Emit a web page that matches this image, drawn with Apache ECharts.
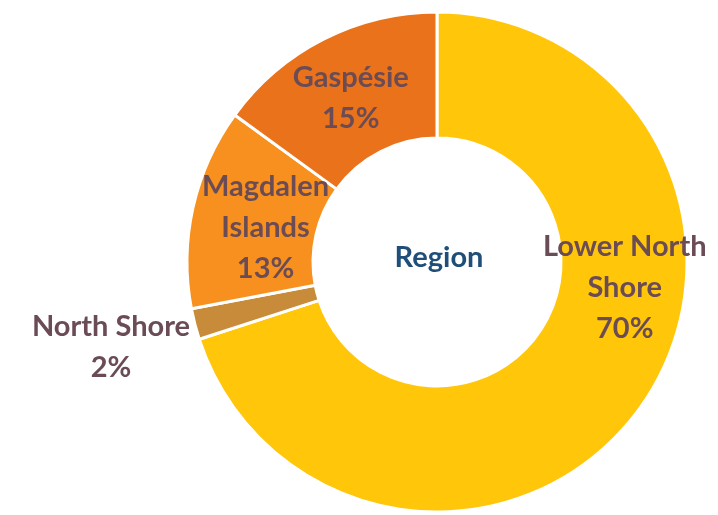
<!DOCTYPE html>
<html>
<head>
<meta charset="utf-8">
<script src="https://cdn.jsdelivr.net/npm/echarts@6/dist/echarts.min.js"></script>
<style>
  html, body { margin: 0; padding: 0; background: #fff; }
  #chart { width: 718px; height: 515px; }
</style>
</head>
<body>
<div id="chart"></div>
<script>
// region shares, clockwise from 12 o'clock
const regions = ['Lower North Shore', 'North Shore', 'Magdalen Islands', 'Gaspésie']
const labelText = ['Lower North\nShore', 'North Shore', 'Magdalen\nIslands', 'Gaspésie']
const shares = [70, 2, 13, 15]
const colors = ['#FFC60A', '#C88B3A', '#F7901E', '#E9721A']

// label nudges away from the default inside position
const labelOffsets = [[34, -86], [-142, 38], [14, 7], [0, 5]]

const chart = echarts.init(document.getElementById('chart'))

chart.setOption({
  animation: false,
  title: {
    text: 'Region',
    left: 434,
    top: 253,
    textAlign: 'center',
    textVerticalAlign: 'middle',
    textStyle: {
      color: '#1F4E79',
      fontFamily: 'Lato',
      fontWeight: 'bold',
      fontSize: 29
    }
  },
  series: [{
    type: 'pie',
    center: [437, 262],
    radius: [124, 250],
    startAngle: 90,
    clockwise: true,
    avoidLabelOverlap: false,
    itemStyle: {
      borderColor: '#fff',
      borderWidth: 3
    },
    label: {
      position: 'inside',
      color: '#6B4C55',
      fontFamily: 'Lato',
      fontWeight: 'bold',
      fontSize: 29,
      lineHeight: 41,
      align: 'center'
    },
    labelLine: { show: false },
    data: regions.map((name, i) => ({
      name: name,
      value: shares[i],
      itemStyle: { color: colors[i] },
      label: {
        formatter: labelText[i] + '\n' + shares[i] + '%',
        offset: labelOffsets[i]
      }
    }))
  }]
})
</script>
</body>
</html>
